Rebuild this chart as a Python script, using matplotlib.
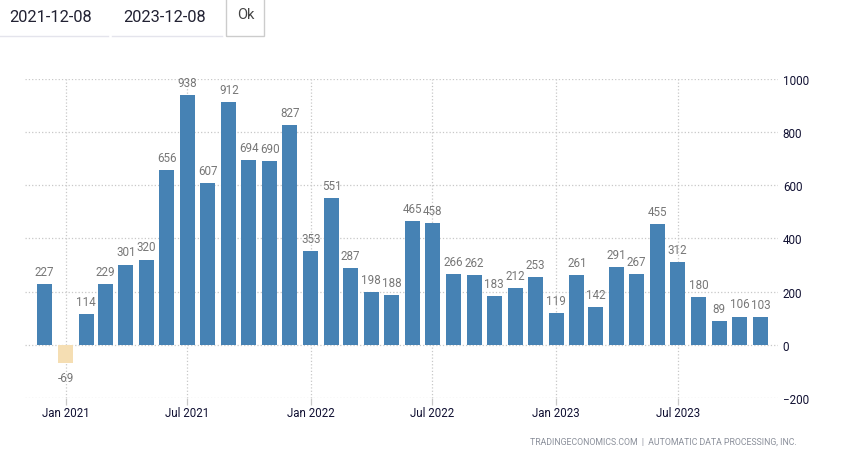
import pandas as pd
import matplotlib.pyplot as plt
import matplotlib.dates as mdates
from matplotlib.lines import Line2D
from matplotlib.patches import Rectangle

plt.rcParams['font.family'] = ['Roboto', 'DejaVu Sans']

W, H = 854, 452

months = pd.date_range('2020-12-01', '2023-11-01', freq='MS')
values = [227, -69, 114, 229, 301, 320, 656, 938, 607, 912, 694, 690,
          827, 353, 551, 287, 198, 188, 465, 458, 266, 262, 183, 212,
          253, 119, 261, 142, 291, 267, 455, 312, 180, 89, 106, 103]
tick_dates = pd.to_datetime(['2021-01-01', '2021-07-01', '2022-01-01',
                             '2022-07-01', '2023-01-01', '2023-07-01'])
y_ticks = [-200, 0, 200, 400, 600, 800, 1000]

fig = plt.figure(figsize=(W / 100, H / 100), dpi=100)
ax = fig.add_axes([25 / W, 1 - 398.9 / H, (778 - 25) / W, (398.9 - 79.9) / H])

colors = ['#4682b4' if v >= 0 else '#f5deb3' for v in values]
ax.bar(months, values, width=22.3, color=colors, zorder=2)

for m, v in zip(months, values):
    if v >= 0:
        ax.annotate(str(v), (m, v), xytext=(0, 4.5), textcoords='offset points',
                    ha='center', va='bottom', fontsize=8.4, color='#777777', zorder=3)
    else:
        ax.annotate(str(v), (m, v), xytext=(0, -6), textcoords='offset points',
                    ha='center', va='top', fontsize=8.4, color='#777777', zorder=3)

# px per day is about 0.672, Jan 2021 sits at x=65.5
ax.set_xlim(pd.Timestamp('2021-01-01') - pd.Timedelta(days=40.5 / 0.672),
            pd.Timestamp('2021-01-01') + pd.Timedelta(days=712.5 / 0.672))
ax.set_ylim(-200, 1000)
ax.set_xticks(tick_dates)
ax.xaxis.set_major_formatter(mdates.DateFormatter('%b %Y'))
ax.set_yticks(y_ticks)
ax.yaxis.tick_right()
ax.grid(True, color='#c8c8c8', linestyle=':', linewidth=0.9, zorder=1)
ax.set_axisbelow(True)
for s in ax.spines.values():
    s.set_visible(False)
ax.tick_params(axis='x', length=5, color='#c8c8c8', width=0.9, labelsize=8.3,
               labelcolor='#111133', pad=1)
ax.tick_params(axis='y', length=0, labelsize=8.4, labelcolor='#111133', pad=3.5)
for lab in ax.get_yticklabels():
    lab.set_ha('left')

# date inputs and button above the chart
fig.text(9 / W, 1 - 18 / H, '2021-12-08', fontsize=11.8, color='#222233', va='center')
fig.text(123 / W, 1 - 18 / H, '2023-12-08', fontsize=11.8, color='#222233', va='center')
fig.text(245.5 / W, 1 - 15 / H, 'Ok', fontsize=10.5, color='#444444', va='center', ha='center')
for x0, x1 in [(0, 108), (112, 222)]:
    fig.add_artist(Line2D([x0 / W, x1 / W], [1 - 36.5 / H] * 2, color='#e4e4ec', lw=1))
fig.add_artist(Rectangle((226.5 / W, 1 - 36.5 / H), 38 / W, 38 / H, fill=False,
                         edgecolor='#cccccc', lw=1, transform=fig.transFigure))

fig.text(797 / W, 1 - 442 / H, 'TRADINGECONOMICS.COM  |  AUTOMATIC DATA PROCESSING, INC.',
         fontsize=6.3, color='#8a8f9a', ha='right', va='center')

fig.savefig('out.png', dpi=100)
